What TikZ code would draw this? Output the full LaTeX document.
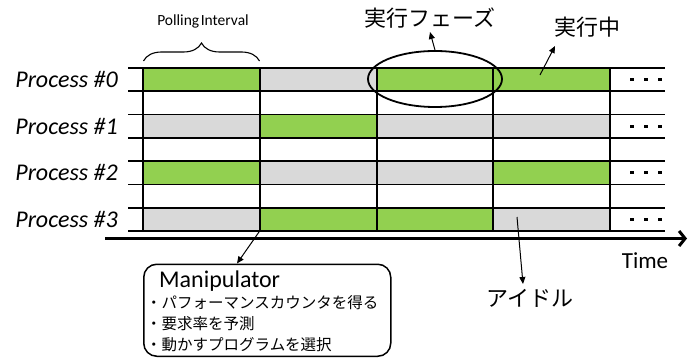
\documentclass[tikz,border=0pt]{standalone}
\usepackage{fontspec}
\setmainfont{Carlito}
\newfontfamily\jp{Noto Sans CJK JP}
\usetikzlibrary{arrows.meta,shapes.geometric,decorations.pathreplacing}
\definecolor{runc}{HTML}{92D050}
\definecolor{idlec}{HTML}{D9D9D9}
\begin{document}
\begin{tikzpicture}[x=1pt,y=-1pt,
  gridline/.style={line width=1.8pt},
  proc/.style={font=\fontsize{24}{24}\selectfont\itshape, anchor=east, inner sep=0pt},
  jplabel/.style={font=\jp\fontsize{22}{22}\selectfont, inner sep=0pt},
  thinarrow/.style={line width=1pt, -{Triangle[length=7pt,width=6pt]}},
  dotsq/.style={fill=black, minimum size=3.2pt, inner sep=0pt}
]
\useasboundingbox (0,0) rectangle (696,358);
% cells and process labels
\foreach \r/\a/\b/\c/\d in {0/runc/idlec/runc/runc, 1/idlec/runc/idlec/idlec, 2/runc/idlec/idlec/runc, 3/idlec/runc/runc/idlec}{
  \pgfmathsetmacro\yt{68+46.6*\r}
  \pgfmathsetmacro\yb{\yt+23.3}
  \pgfmathsetmacro\ym{\yt+11.65}
  \fill[\a] (143,\yt) rectangle (260,\yb);
  \fill[\b] (260,\yt) rectangle (377,\yb);
  \fill[\c] (377,\yt) rectangle (493,\yb);
  \fill[\d] (493,\yt) rectangle (610,\yb);
  \node[proc] (p\r) at (118,\ym) {Process \#\r};
  \foreach \dx in {632,646,660}{\fill (\dx-1.6,\ym-1.6) rectangle (\dx+1.6,\ym+1.6);}
}
% grid lines
\foreach \k in {0,...,7}{\draw[gridline] (128,{68+23.3*\k}) -- (665,{68+23.3*\k});}
\foreach \x in {143,260,377,493,610}{\draw[gridline] (\x,67.1) -- (\x,232);}
% time axis
\coordinate (t0) at (105,238.5);
\coordinate (t1) at (687,238.5);
\draw[line width=3pt,-{Straight Barb[length=6pt,width=15pt]}] (t0) -- (t1);
\node[font=\fontsize{23}{23}\selectfont, inner sep=0pt] (time) at (645,261) {Time};
% polling interval brace
\draw[line width=1.1pt, decorate, decoration={brace, amplitude=18pt}] (143.5,61) -- (259.5,61);
\node[font=\fontsize{15.5}{15.5}\selectfont, inner sep=0pt] (poll) at (203,21) {Polling\hspace{0.1em}Interval};
% execution phase ellipse
\node[draw, ellipse, line width=1.8pt, minimum width=134pt, minimum height=56pt, inner sep=0pt] (ph) at (435,79) {};
\node[jplabel] (phl) at (430,18) {実行フェーズ};
\coordinate (phtip) at (430,32);
\draw[thinarrow] (ph.north) -- (phtip);
% running
\node[jplabel] (runl) at (587,27) {実行中};
\coordinate (runpt) at (540,75);
\coordinate (runtip) at (555,46);
\draw[thinarrow] (runpt) -- (runtip);
% idle
\node[jplabel] (idl) at (530,298) {アイドル};
\coordinate (idlept) at (517,217);
\coordinate (idltip) at (523,284);
\draw[thinarrow] (idlept) -- (idltip);
% manipulator
\node[draw, line width=1.5pt, rounded corners=13pt, minimum width=247pt, minimum height=92pt, anchor=north west, inner sep=0pt] (mbox) at (143,263.5) {};
\node[font=\fontsize{24}{24}\selectfont, anchor=west, inner sep=0pt] (mtitle) at (159,281) {Manipulator};
\node[font=\jp\fontsize{15.5}{15.5}\selectfont, anchor=west, inner sep=0pt] (m1) at (146,303) {・パフォーマンスカウンタを得る};
\node[font=\jp\fontsize{15.5}{15.5}\selectfont, anchor=west, inner sep=0pt] (m2) at (146,324) {・要求率を予測};
\node[font=\jp\fontsize{15.5}{15.5}\selectfont, anchor=west, inner sep=0pt] (m3) at (146,345) {・動かすプログラムを選択};
\coordinate (mpt) at (259,232);
\coordinate (mtip) at (237,263.5);
\draw[thinarrow] (mpt) -- (mtip);
\end{tikzpicture}
\end{document}
